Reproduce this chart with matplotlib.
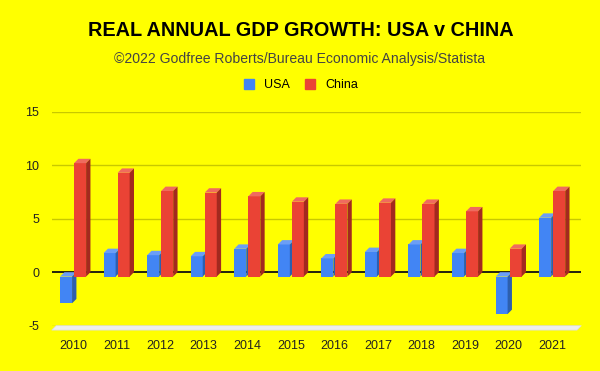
import numpy as np
import matplotlib.pyplot as plt
from matplotlib.patches import Polygon, Patch

years = ['2010', '2011', '2012', '2013', '2014', '2015',
         '2016', '2017', '2018', '2019', '2020', '2021']
usa = [-2.5, 2.2, 2.0, 1.9, 2.6, 3.0, 1.7, 2.3, 3.0, 2.2, -3.5, 5.5]
china = [10.6, 9.7, 8.0, 7.85, 7.5, 7.0, 6.8, 6.9, 6.8, 6.1, 2.6, 8.0]

BG = '#ffff00'
GRID = '#c8c800'
USA_C = ('#4285f4', '#6b9ef6', '#2d5fae')    # front, top, side
CHINA_C = ('#ea4335', '#ef6b5f', '#a3291f')

# fake 3d depth (data units)
DX = 0.10
DY = 0.41
W = 0.276
GAP = 0.023


def bar3d(ax, x, vals, cols):
    front, top, side = cols
    lo = np.minimum(vals, 0)
    hi = np.maximum(vals, 0)
    ax.bar(x, hi - lo, width=W, bottom=lo - DY, align='edge',
           color=front, zorder=3, clip_on=False)
    for xi, l, h in zip(x, lo, hi):
        ax.add_patch(Polygon([(xi, h - DY), (xi + W, h - DY),
                              (xi + W + DX, h), (xi + DX, h)],
                             closed=True, color=top, zorder=3, lw=0))
        ax.add_patch(Polygon([(xi + W, l - DY), (xi + W + DX, l),
                              (xi + W + DX, h), (xi + W, h - DY)],
                             closed=True, color=side, zorder=3, lw=0,
                             clip_on=False))


plt.rcParams['font.family'] = ['Liberation Sans', 'DejaVu Sans']
plt.rcParams['axes.unicode_minus'] = False
fig = plt.figure(figsize=(6, 3.71), dpi=100, facecolor=BG)
ax = fig.add_axes([0.0862, 0.1221, 0.8827, 0.5768], facecolor=BG)

x = np.arange(len(years))
xl, xr = -0.49, 11.67
ax.set_xlim(xl, xr)
ax.set_ylim(-5, 15)

for g in [5, 10, 15]:
    ax.axhline(g, color=GRID, lw=1, zorder=1)
ax.axhline(-5, color=GRID, lw=1, zorder=1)
ax.axhline(0, color='#111111', lw=1.3, zorder=2)

# floor
ax.add_patch(Polygon([(xl, -5 - DY), (xr - DX, -5 - DY), (xr, -5), (xl + DX, -5)],
                     closed=True, facecolor='#eeeeee', edgecolor='#dddddd',
                     lw=0.5, zorder=1, clip_on=False))

# draw group by group so later bars overlap correctly
for i in range(len(years)):
    bar3d(ax, [x[i] - GAP - W], [usa[i]], USA_C)
    bar3d(ax, [x[i] + GAP], [china[i]], CHINA_C)

ax.set_xticks(x)
ax.set_xticklabels(years)
ax.set_yticks([-5, 0, 5, 10, 15])
ax.tick_params(axis='x', length=0, pad=10, labelsize=9, labelcolor='#222222')
ax.tick_params(axis='y', length=0, pad=9, labelsize=9, labelcolor='#222222')
for s in ax.spines.values():
    s.set_visible(False)

fig.text(0.502, 1 - 31 / 371, 'REAL ANNUAL GDP GROWTH: USA v CHINA',
         ha='center', va='center', fontsize=14.3, fontweight='bold', color='black')
fig.text(0.5, 1 - 58.5 / 371, '\u00a92022 Godfree Roberts/Bureau Economic Analysis/Statista',
         ha='center', va='center', fontsize=10.1, color='#444444')

handles = [Patch(color=USA_C[0], label='USA'), Patch(color=CHINA_C[0], label='China')]
fig.legend(handles=handles, loc='center', bbox_to_anchor=(0.502, 1 - 85 / 371),
           ncol=2, frameon=False, fontsize=9, handlelength=0.8, handleheight=0.8,
           handletextpad=0.8, columnspacing=1.2)

fig.savefig('out.png', dpi=100, facecolor=BG)
